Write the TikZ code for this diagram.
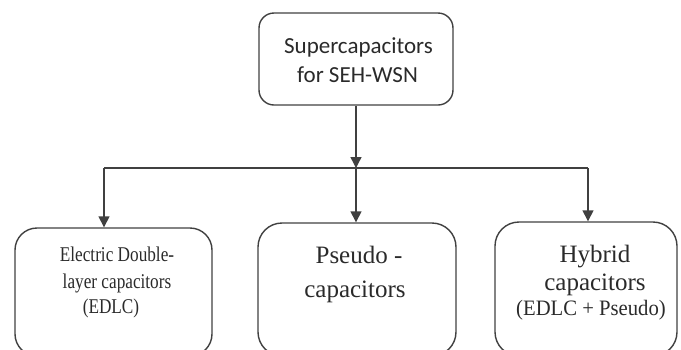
\documentclass[tikz,border=0pt]{standalone}
\usepackage{fontspec}
\setmainfont{Liberation Serif}
\newfontfamily\boxsans{Carlito}
\usetikzlibrary{arrows.meta}
\definecolor{inkgray}{HTML}{2A2A2A}
\definecolor{linegray}{HTML}{404040}
% horizontally condensed text line
\newcommand{\narrowline}[2]{\scalebox{#1}[1]{#2}}
\begin{document}
\begin{tikzpicture}[x=1pt,y=-1pt,
  box/.style={draw=linegray, line width=1.4pt, rounded corners=#1, inner sep=0pt},
  box/.default=18pt,
  textline/.style={text=inkgray, anchor=base, inner sep=0pt},
  link/.style={draw=linegray, line width=1.4pt},
  arrow/.style={link, -{Triangle[width=11pt,length=11pt]}}]
\useasboundingbox (0,0) rectangle (681,349);
% root box
\node[box=15pt, minimum width=194pt, minimum height=92pt] (top) at (356,59) {};
\begin{scope}[every node/.append style={font=\boxsans\fontsize{23}{28}\selectfont}]
  \node[textline] (top1) at (358.5,53) {Supercapacitors};
  \node[textline] (top2) at (357.5,82) {for SEH-WSN};
\end{scope}
% EDLC box
\node[box=22pt, minimum width=197pt, minimum height=128pt] (left) at (113.5,292) {};
\begin{scope}[every node/.append style={font=\fontsize{21}{26}\selectfont}]
  \node[textline] (left1) at (117,261) {\narrowline{0.82}{Electric Double-}};
  \node[textline] (left2) at (117,288) {\narrowline{0.82}{layer capacitors}};
  \node[textline] (left3) at (111,313) {\narrowline{0.82}{(EDLC)}};
\end{scope}
% pseudocapacitor box
\node[box=24pt, minimum width=198pt, minimum height=133pt] (mid) at (357,289.5) {};
\begin{scope}[every node/.append style={font=\fontsize{25}{34}\selectfont}]
  \node[textline] (mid1) at (359,263) {Pseudo -};
  \node[textline] (mid2) at (355,297) {capacitors};
\end{scope}
% hybrid box
\node[box=24pt, minimum width=182pt, minimum height=134pt] (right) at (586,289) {};
\begin{scope}[every node/.append style={font=\fontsize{25}{30}\selectfont}]
  \node[textline] (right1) at (595,262) {Hybrid};
  \node[textline] (right2) at (595,290) {capacitors};
  \node[textline, font=\fontsize{22}{26}\selectfont] (right3) at (591,315)
    {\narrowline{0.94}{(EDLC + Pseudo)}};
\end{scope}
% branching connectors
\coordinate (split) at (356,168);
\coordinate (lsplit) at (104,168);
\coordinate (rsplit) at (588,168);
\draw[arrow] (top.south) -- (split);
\draw[link] (lsplit) -- (rsplit);
\draw[arrow] (lsplit) -- (lsplit |- left.north);
\draw[arrow] (split) -- (split |- mid.north);
\draw[arrow] (rsplit) -- (rsplit |- right.north);
\end{tikzpicture}
\end{document}
